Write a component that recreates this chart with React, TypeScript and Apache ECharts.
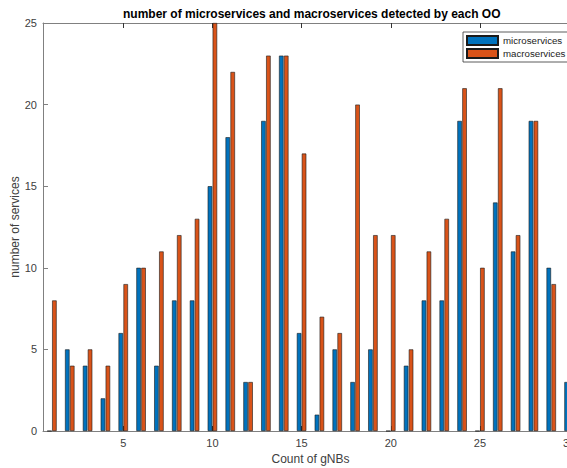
import React, { useEffect, useRef } from "react";
import * as echarts from "echarts";

const categories = ["1","2","3","4","5","6","7","8","9","10","11","12","13","14","15","16","17","18","19","20","21","22","23","24","25","26","27","28","29","30"];
const microservices = [0, 5, 4, 2, 6, 10, 4, 8, 8, 15, 18, 3, 19, 23, 6, 1, 5, 3, 5, 0, 4, 8, 8, 19, 0, 14, 11, 19, 10, 3];
const macroservices = [8, 4, 5, 4, 9, 10, 11, 12, 13, 25, 22, 3, 23, 23, 17, 7, 6, 20, 12, 12, 5, 11, 13, 21, 10, 21, 12, 19, 9, null];
const yTicks = { min: 0, max: 25, interval: 5 };

const FONT = "'Liberation Sans', Arial, Helvetica, sans-serif";
const AXIS_COLOR = "#808080";
const LABEL_COLOR = "#404040";

export default function App() {
  const ref = useRef<HTMLDivElement>(null);
  useEffect(() => {
    if (!ref.current) return;
    const chart = echarts.init(ref.current, undefined, { renderer: "svg" });
    const every5 = (i: number) => (i + 1) % 5 === 0;
    chart.setOption({
      animation: false,
      backgroundColor: "#ffffff",
      title: {
        text: "number of microservices and macroservices detected by each OO",
        left: 123,
        top: 8,
        padding: 0,
        textStyle: { fontFamily: FONT, fontSize: 12, fontWeight: "bold", color: "#000" },
      },
      legend: {
        orient: "vertical",
        left: 463,
        top: 32,
        padding: [3, 3, 3, 3],
        itemWidth: 31,
        itemHeight: 9,
        itemGap: 2,
        borderColor: "#333",
        borderWidth: 0.8,
        backgroundColor: "#fff",
        borderRadius: 0,
        icon: "rect",
        textStyle: { fontFamily: FONT, fontSize: 9.7, color: "#222" },
        data: ["microservices", "macroservices"],
      },
      grid: { left: 43, top: 23, right: -11, bottom: 37, containLabel: false, outerBoundsMode: "none" },
      xAxis: [
        {
          type: "category",
          data: categories,
          position: "bottom",
          name: "Count of gNBs",
          nameLocation: "middle",
          nameGap: 22,
          nameMoveOverlap: false,
          nameTextStyle: { fontFamily: FONT, fontSize: 12, color: LABEL_COLOR },
          axisLine: { show: true, lineStyle: { color: AXIS_COLOR, width: 1 } },
          axisTick: { show: true, inside: true, length: 5, alignWithLabel: true, interval: (i: number) => every5(i), lineStyle: { color: "#333" } },
          axisLabel: { interval: (i: number) => every5(i), margin: 6, fontFamily: FONT, fontSize: 11, color: LABEL_COLOR },
          splitLine: { show: false },
        },
        {
          type: "category",
          data: categories,
          position: "top",
          axisLine: { show: true, lineStyle: { color: AXIS_COLOR, width: 1 } },
          axisTick: { show: true, inside: true, length: 5, alignWithLabel: true, interval: (i: number) => every5(i), lineStyle: { color: "#333" } },
          axisLabel: { show: false },
          splitLine: { show: false },
        },
      ],
      yAxis: {
        type: "value",
        min: yTicks.min,
        max: yTicks.max,
        interval: yTicks.interval,
        name: "number of services",
        nameLocation: "middle",
        nameGap: 22,
        nameMoveOverlap: false,
        nameTextStyle: { fontFamily: FONT, fontSize: 12, color: LABEL_COLOR },
        axisLine: { show: true, lineStyle: { color: AXIS_COLOR, width: 1 } },
        axisTick: { show: true, inside: true, length: 5, lineStyle: { color: AXIS_COLOR } },
        axisLabel: { margin: 6, fontFamily: FONT, fontSize: 11, color: LABEL_COLOR },
        splitLine: { show: false },
      },
      series: [
        {
          name: "microservices",
          type: "bar",
          xAxisIndex: 0,
          data: microservices,
          barWidth: 4.5,
          barGap: "10%",
          itemStyle: { color: "#0072BD", borderColor: "#1a1a1a", borderWidth: 0.6 },
        },
        {
          name: "macroservices",
          type: "bar",
          xAxisIndex: 0,
          data: macroservices,
          barWidth: 4.5,
          barGap: "10%",
          itemStyle: { color: "#D95319", borderColor: "#1a1a1a", borderWidth: 0.6 },
        },
      ],
    });
    return () => chart.dispose();
  }, []);
  return (
    <div
      ref={ref}
      style={{ position: "fixed", left: 0, top: 0, width: 567, height: 468, background: "#fff" }}
    />
  );
}
